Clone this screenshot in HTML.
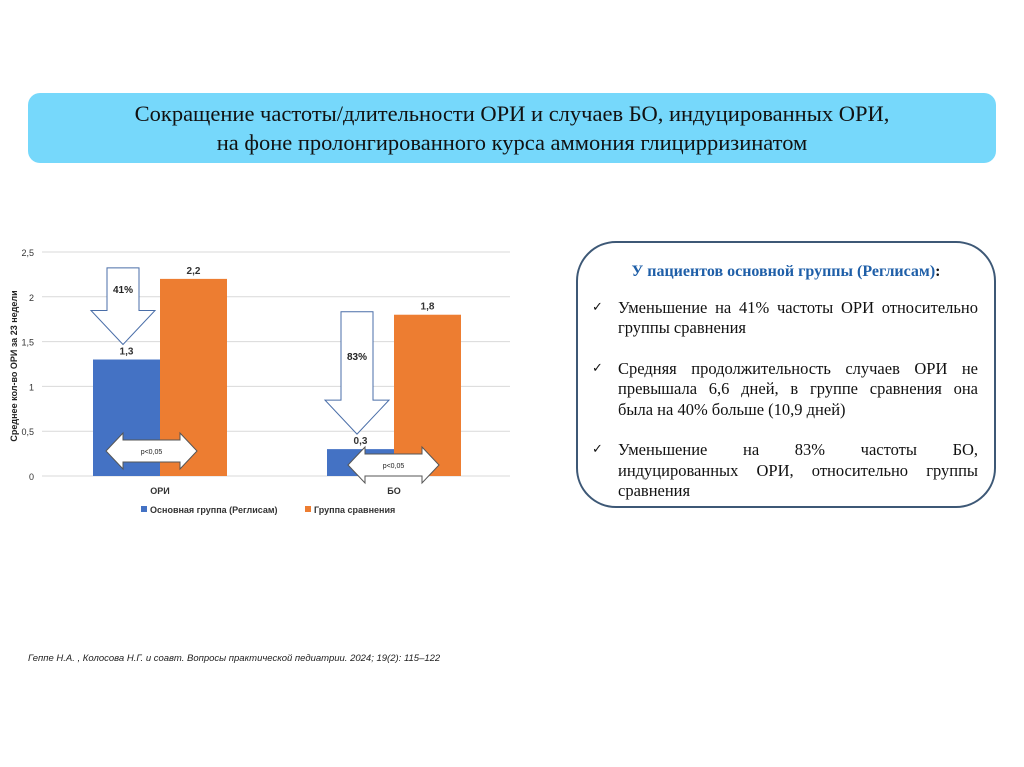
<!DOCTYPE html>
<html><head><meta charset="utf-8">
<style>
body{margin:0;width:1024px;height:767px;background:#fff;position:relative;overflow:hidden;font-family:"Liberation Sans","Noto Sans CJK SC",sans-serif}
.title{position:absolute;left:28px;top:93px;width:968px;height:70px;background:#76d8fb;border-radius:12px;text-align:center;font-family:"Liberation Serif","Noto Serif CJK SC",serif;font-size:22.5px;line-height:29px;padding-top:6px;box-sizing:border-box;color:#111}
.box{position:absolute;left:576px;top:241px;width:420px;height:267px;border:2px solid #3d5876;border-radius:40px;box-sizing:border-box;font-family:"Liberation Serif","Noto Serif CJK SC",serif;font-size:16.5px;line-height:20.5px;color:#111}
.box h3{margin:19px 0 15px;text-align:center;font-size:16px;color:#1f5fa8;font-weight:bold}
.item{position:relative;padding-left:40px;padding-right:16px;margin-bottom:20px}
.item div{text-align:justify;text-align-last:justify;white-space:nowrap}
.item div.last{text-align-last:left}
.item:before{content:"✓";position:absolute;left:14px;top:0;font-family:"DejaVu Sans",sans-serif;font-size:13px}
.foot{position:absolute;left:28px;top:653px;font-size:9.5px;font-style:italic;color:#222}
</style></head><body>
<div class="title">Сокращение частоты/длительности ОРИ и случаев БО, индуцированных ОРИ,<br>на фоне пролонгированного курса аммония глицирризинатом</div>
<svg id="chart" width="560" height="540" style="position:absolute;left:0;top:0"></svg>
<div class="box">
<h3>У пациентов основной группы (Реглисам)<span style="color:#111">:</span></h3>
<div class="item"><div style="white-space:normal">Уменьшение на 41% частоты ОРИ относительно</div><div class="last">группы сравнения</div></div>
<div class="item"><div>Средняя продолжительность случаев ОРИ не</div><div>превышала 6,6 дней, в группе сравнения она</div><div class="last">была на 40% больше (10,9 дней)</div></div>
<div class="item"><div>Уменьшение на 83% частоты БО,</div><div>индуцированных ОРИ, относительно группы</div><div class="last">сравнения</div></div>
</div>
<div class="foot">Геппе Н.А. , Колосова Н.Г.  и соавт. Вопросы практической педиатрии. 2024; 19(2): 115–122</div>
<script>
const categories=["ОРИ","БО"];
const mainVals=[1.3,0.3];
const compVals=[2.2,1.8];
const valLabels1=["1,3","0,3"];
const valLabels2=["2,2","1,8"];
const ticks=[0,0.5,1,1.5,2,2.5];
const tickLabels=["0","0,5","1","1,5","2","2,5"];
const pcts=["41%","83%"];
const NS="http://www.w3.org/2000/svg";
const svg=document.getElementById('chart');
const y0=476,pxPer=89.6;
const y=v=>y0-v*pxPer;
const groupX=[93,327],bw=67;
function mk(t,a,p){const e=document.createElementNS(NS,t);for(const k in a)e.setAttribute(k,a[k]);(p||svg).appendChild(e);return e;}
ticks.forEach((t,i)=>{
 const l=mk('line',{x1:42,x2:510,y1:y(t),y2:y(t),stroke:'#d9d9d9','stroke-width':1});
 
 
 const tx=mk('text',{x:34,y:y(t)+4,'text-anchor':'end','font-size':9,fill:'#333'});tx.textContent=tickLabels[i];
 
 
});
const yt=mk('text',{transform:'translate(17,366) rotate(-90)','text-anchor':'middle','font-size':9,'font-weight':'bold',fill:'#222'});
yt.textContent='Среднее кол-во ОРИ за 23 недели';


categories.forEach((c,i)=>{
 const gx=groupX[i];
 const b1=mk('rect',{x:gx,y:y(mainVals[i]),width:bw,height:mainVals[i]*pxPer,fill:'#4472c4'});
 
 
 const b2=mk('rect',{x:gx+bw,y:y(compVals[i]),width:bw,height:compVals[i]*pxPer,fill:'#ed7d31'});
 
 
 const t1=mk('text',{x:gx+bw/2,y:y(mainVals[i])-5,'text-anchor':'middle','font-size':10,'font-weight':'bold',fill:'#333'});t1.textContent=valLabels1[i];
 
 
 const t2=mk('text',{x:gx+bw*1.5,y:y(compVals[i])-5,'text-anchor':'middle','font-size':10,'font-weight':'bold',fill:'#333'});t2.textContent=valLabels2[i];
 
 
 const cl=mk('text',{x:gx+bw,y:494,'text-anchor':'middle','font-size':9,'font-weight':'bold',fill:'#333'});cl.textContent=c;
 
 
 const cx=gx+30,top=y(compVals[i])-(i==0?11:3),tip=y(mainVals[i])-15,hs=tip-34;
 const da=mk('polygon',{points:`${cx-16},${top} ${cx+16},${top} ${cx+16},${hs} ${cx+32},${hs} ${cx},${tip} ${cx-32},${hs} ${cx-16},${hs}`,fill:'#fff',stroke:'#4a6ea8','stroke-width':1});
 
 
 const pt=mk('text',{x:cx,y:(top+hs)/2+4,'text-anchor':'middle','font-size':10,'font-weight':'bold',fill:'#222'});pt.textContent=pcts[i];
 
 
 const my=i==0?451:465,l=i==0?106:348,r=l+91;
 const dd=mk('polygon',{points:`${l},${my} ${l+17},${my-18} ${l+17},${my-11} ${r-17},${my-11} ${r-17},${my-18} ${r},${my} ${r-17},${my+18} ${r-17},${my+11} ${l+17},${my+11} ${l+17},${my+18}`,fill:'#fff',stroke:'#555','stroke-width':1});
 
 
 const ps=mk('text',{x:(l+r)/2,y:my+3,'text-anchor':'middle','font-size':7,fill:'#222'});ps.textContent='p<0,05';
 
 
});
const leg=[['#4472c4','Основная группа (Реглисам)',141],['#ed7d31','Группа сравнения',305]];
leg.forEach(d=>{
 const r=mk('rect',{x:d[2],y:506,width:6,height:6,fill:d[0]});
 
 
 const t=mk('text',{x:d[2]+9,y:513,'font-size':9,'font-weight':'bold',fill:'#333'});t.textContent=d[1];
 
 
});
</script>
</body></html>
